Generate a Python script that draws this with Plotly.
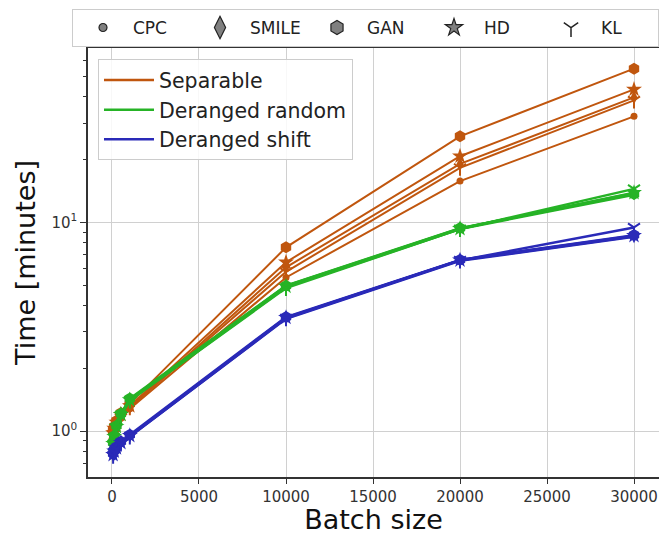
import plotly.graph_objects as go

batch_sizes = [64, 128, 256, 512, 1024, 10000, 20000, 30000]

estimators = ["CPC", "SMILE", "GAN", "HD", "KL"]
settings = ["Separable", "Deranged random", "Deranged shift"]

x_tick_vals = [0, 5000, 10000, 15000, 20000, 25000, 30000]
x_tick_text = ["0", "5000", "10000", "15000", "20000", "25000", "30000"]

# times in minutes, per setting and estimator
separable = {
    "CPC":   [0.95, 1.00, 1.06, 1.15, 1.28, 5.45, 15.8, 32.3],
    "SMILE": [0.97, 1.02, 1.10, 1.18, 1.30, 6.10, 19.1, 39.8],
    "GAN":   [1.00, 1.05, 1.12, 1.22, 1.35, 7.60, 25.9, 54.7],
    "HD":    [0.98, 1.03, 1.10, 1.20, 1.32, 6.45, 20.8, 43.5],
    "KL":    [0.96, 1.00, 1.08, 1.16, 1.30, 5.80, 18.3, 38.5],
}
deranged_random = {
    "CPC":   [0.86, 0.93, 1.04, 1.19, 1.40, 4.90, 9.30, 13.6],
    "SMILE": [0.87, 0.94, 1.05, 1.20, 1.42, 4.96, 9.36, 13.8],
    "GAN":   [0.88, 0.95, 1.06, 1.21, 1.43, 4.98, 9.40, 13.7],
    "HD":    [0.87, 0.94, 1.05, 1.20, 1.41, 4.94, 9.34, 13.9],
    "KL":    [0.86, 0.93, 1.04, 1.19, 1.40, 4.85, 9.30, 14.5],
}
deranged_shift = {
    "CPC":   [0.76, 0.79, 0.82, 0.87, 0.94, 3.45, 6.55, 8.55],
    "SMILE": [0.77, 0.80, 0.83, 0.88, 0.95, 3.49, 6.59, 8.60],
    "GAN":   [0.78, 0.81, 0.84, 0.89, 0.96, 3.52, 6.62, 8.70],
    "HD":    [0.77, 0.80, 0.83, 0.88, 0.95, 3.50, 6.60, 8.65],
    "KL":    [0.76, 0.79, 0.82, 0.87, 0.94, 3.47, 6.58, 9.47],
}
data = [separable, deranged_random, deranged_shift]

colors = ["#c0560e", "#26b326", "#2a2ab8"]
line_widths = [2, 2.5, 2.5]
symbols = {"CPC": "circle", "SMILE": "diamond-tall", "GAN": "hexagon",
           "HD": "star", "KL": "y-down"}
sizes = {"CPC": 7, "SMILE": 10, "GAN": 12, "HD": 12, "KL": 10}
legend_sizes = {"CPC": 8, "SMILE": 18, "GAN": 14, "HD": 13, "KL": 12}

fig = go.Figure()
for s, setting in enumerate(settings):
    for est in estimators:
        sym = symbols[est]
        marker = dict(symbol=sym, size=sizes[est], color=colors[s])
        if sym.startswith("y-"):
            marker["line"] = dict(color=colors[s], width=2)
        fig.add_trace(go.Scatter(
            x=batch_sizes, y=data[s][est], mode="lines+markers",
            line=dict(color=colors[s], width=line_widths[s]),
            marker=marker, showlegend=False, hoverinfo="skip"))

# marker legend (top)
for est in estimators:
    sym = symbols[est]
    if sym.startswith("y-"):
        mk = dict(symbol=sym, size=legend_sizes[est], color="#333333",
                  line=dict(color="#222222", width=1.5))
    else:
        mk = dict(symbol=sym, size=legend_sizes[est], color="#808080",
                  line=dict(color="#222222", width=1.2))
    fig.add_trace(go.Scatter(x=[None], y=[None], mode="markers", name=est,
                             marker=mk, legend="legend"))

# colour legend (inside)
for s, setting in enumerate(settings):
    fig.add_trace(go.Scatter(x=[None], y=[None], mode="lines", name=setting,
                             line=dict(color=colors[s], width=2.5), legend="legend2"))

fig.update_layout(
    width=659, height=535,
    margin=dict(l=88, r=0, t=48, b=58),
    paper_bgcolor="white", plot_bgcolor="white",
    font=dict(family="DejaVu Sans", color="#222222"),
    legend=dict(orientation="h", x=-0.014, y=1.091, xanchor="left", yanchor="top",
                entrywidth=52, entrywidthmode="pixels", itemwidth=50,
                bgcolor="white", bordercolor="#cccccc", borderwidth=1,
                font=dict(size=17, color="#222222"), itemsizing="trace"),
    legend2=dict(x=0.0175, y=0.974, xanchor="left", yanchor="top", itemwidth=50,
                 bgcolor="rgba(255,255,255,0.85)", bordercolor="#cccccc", borderwidth=1,
                 font=dict(size=20.5, color="#222222"), tracegroupgap=0),
    xaxis=dict(range=[-1379, 31437], tickvals=x_tick_vals, ticktext=x_tick_text,
               automargin=False,
               showgrid=True, gridcolor="#d0d0d0", gridwidth=1, zeroline=False,
               showline=True, linecolor="#333333", linewidth=1.5, mirror=True,
               ticks="outside", ticklen=5, tickcolor="#333333",
               tickfont=dict(size=15, color="#333333"),
               title=dict(text="Batch size", font=dict(size=27, color="#111111"), standoff=9)),
    yaxis=dict(type="log", range=[-0.2206, 1.837], tickvals=[1, 10],
               ticktext=["10<sup>0</sup>", "10<sup>1</sup>"],
               automargin=False,
               showgrid=True, gridcolor="#d0d0d0", gridwidth=1, zeroline=False,
               showline=True, linecolor="#333333", linewidth=1.5,
               ticks="outside", ticklen=6, tickcolor="#333333",
               tickfont=dict(size=15, color="#333333"),
               minor=dict(ticks="outside", ticklen=3.5, tickcolor="#333333", showgrid=False,
                          tickvals=[0.7, 0.8, 0.9, 2, 3, 4, 5, 6, 7, 8, 9, 20, 30, 40, 50, 60]),
               title=dict(text="Time [minutes]", font=dict(size=27, color="#111111"), standoff=8)),
)

fig.write_html("out.html")
